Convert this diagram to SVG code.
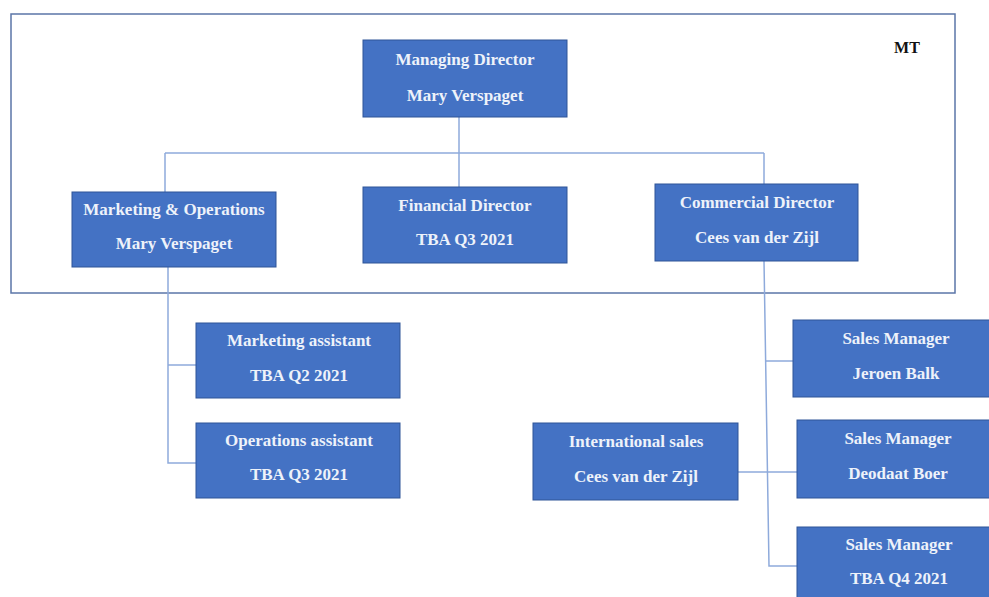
<svg xmlns="http://www.w3.org/2000/svg" width="989" height="597" viewBox="0 0 989 597">
<style>
.box{fill:#4472c4;stroke:#2f5597;stroke-width:1}
.t{font-family:"Liberation Serif","Times New Roman",serif;font-size:17px;font-weight:bold;fill:#eef2fa;text-anchor:middle}
.ln{fill:none;stroke:#8eaadb;stroke-width:1.5}
</style>
<rect width="989" height="597" fill="#ffffff"/>
<g id="frame">
<rect x="11" y="14" width="944" height="279" fill="none" stroke="#5b76a8" stroke-width="1.5"/>
<text x="907" y="53" font-family="Liberation Serif, serif" font-size="16" font-weight="bold" fill="#111" text-anchor="middle">MT</text>
</g>
<g id="connectors">
<path class="ln" d="M459 117 V153 M165 153 H764 M165 153 V192 M459 153 V187 M764 153 V184"/>
<path class="ln" d="M168 267 V463 H196 M168 365 H196"/>
<path class="ln" d="M764 261 L769 566 H797 M766 361 H793 M738 472 H797"/>
</g>
<g id="managing-director">
<rect class="box" x="363" y="40" width="204" height="77"/>
<text class="t" x="465" y="65">Managing Director</text>
<text class="t" x="465" y="101">Mary Verspaget</text>
</g>
<g id="marketing-operations">
<rect class="box" x="72" y="192" width="204" height="75"/>
<text class="t" x="174" y="215">Marketing &amp; Operations</text>
<text class="t" x="174" y="249">Mary Verspaget</text>
</g>
<g id="financial-director">
<rect class="box" x="363" y="187" width="204" height="76"/>
<text class="t" x="465" y="211">Financial Director</text>
<text class="t" x="465" y="245">TBA Q3 2021</text>
</g>
<g id="commercial-director">
<rect class="box" x="655" y="184" width="203" height="77"/>
<text class="t" x="757" y="208">Commercial Director</text>
<text class="t" x="757" y="243">Cees van der Zijl</text>
</g>
<g id="marketing-assistant">
<rect class="box" x="196" y="323" width="204" height="75"/>
<text class="t" x="299" y="346">Marketing assistant</text>
<text class="t" x="299" y="381">TBA Q2 2021</text>
</g>
<g id="operations-assistant">
<rect class="box" x="196" y="423" width="204" height="75"/>
<text class="t" x="299" y="446">Operations assistant</text>
<text class="t" x="299" y="480">TBA Q3 2021</text>
</g>
<g id="sales-manager-1">
<rect class="box" x="793" y="320" width="210" height="77"/>
<text class="t" x="896" y="344">Sales Manager</text>
<text class="t" x="896" y="379">Jeroen Balk</text>
</g>
<g id="sales-manager-2">
<rect class="box" x="797" y="420" width="210" height="78"/>
<text class="t" x="898" y="444">Sales Manager</text>
<text class="t" x="898" y="479">Deodaat Boer</text>
</g>
<g id="sales-manager-3">
<rect class="box" x="797" y="527" width="210" height="80"/>
<text class="t" x="899" y="550">Sales Manager</text>
<text class="t" x="899" y="584">TBA Q4 2021</text>
</g>
<g id="international-sales">
<rect class="box" x="533" y="423" width="205" height="77"/>
<text class="t" x="636" y="447">International sales</text>
<text class="t" x="636" y="482">Cees van der Zijl</text>
</g>
</svg>
